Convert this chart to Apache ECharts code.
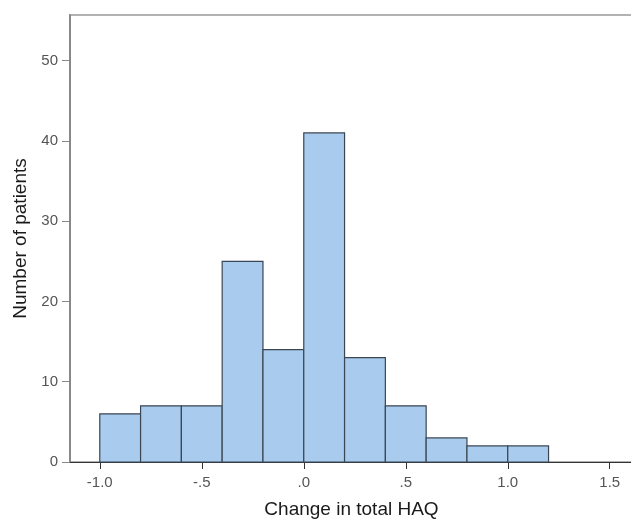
<!DOCTYPE html>
<html>
<head>
<meta charset="utf-8">
<script src="https://cdn.jsdelivr.net/npm/echarts@6/dist/echarts.min.js"></script>
<style>
html,body{margin:0;padding:0;background:#fff;}
#chart{width:631px;height:523px;}
</style>
</head>
<body>
<div id="chart"></div>
<script>
// Histogram data: bin edges (change in total HAQ) and counts per bin
const binEdges = [-1.0, -0.8, -0.6, -0.4, -0.2, 0.0, 0.2, 0.4, 0.6, 0.8, 1.0, 1.2];
const counts = [6, 7, 7, 25, 14, 41, 13, 7, 3, 2, 2];
const xTickValues = [-1.0, -0.5, 0.0, 0.5, 1.0, 1.5];
const xTickLabels = ['-1.0', '-.5', '.0', '.5', '1.0', '1.5'];
const yTickValues = [0, 10, 20, 30, 40, 50];

const barData = counts.map((c, i) => [binEdges[i], binEdges[i + 1], c]);

const chart = echarts.init(document.getElementById('chart'), null, {renderer: 'canvas'});
const font = '"Liberation Sans", Arial, sans-serif';

chart.setOption({
  animation: false,
  backgroundColor: '#fff',
  grid: {
    left: 70, top: 15, bottom: 61, right: -2,
    containLabel: false, outerBoundsMode: 'none',
    show: true, borderColor: '#999', borderWidth: 1.5, backgroundColor: 'transparent'
  },
  xAxis: {
    type: 'value',
    min: -1.146, max: 1.614,
    name: 'Change in total HAQ',
    nameLocation: 'middle',
    nameGap: 38,
    nameTextStyle: {fontFamily: font, fontSize: 19, color: '#1a1a1a'},
    axisLine: {show: true, onZero: false, lineStyle: {color: '#333', width: 1}},
    axisTick: {show: true, length: 7, customValues: xTickValues, lineStyle: {color: '#333'}},
    axisLabel: {
      customValues: xTickValues,
      formatter: v => { const i = xTickValues.findIndex(t => Math.abs(t - v) < 1e-9); return i >= 0 ? xTickLabels[i] : ''; },
      fontFamily: font, fontSize: 15, color: '#555', margin: 13
    },
    splitLine: {show: false}
  },
  yAxis: {
    type: 'value',
    min: 0, max: 55.7,
    name: 'Number of patients',
    nameLocation: 'middle',
    nameGap: 40,
    nameTextStyle: {fontFamily: font, fontSize: 19, color: '#1a1a1a'},
    axisLine: {show: true, onZero: false, lineStyle: {color: '#888', width: 2}},
    axisTick: {show: true, length: 8, customValues: yTickValues, lineStyle: {color: '#888'}},
    axisLabel: {customValues: yTickValues, fontFamily: font, fontSize: 15, color: '#555', margin: 12},
    splitLine: {show: false}
  },
  series: [{
    type: 'custom',
    data: barData,
    encode: {x: [0, 1], y: 2},
    renderItem: function (params, api) {
      const p0 = api.coord([api.value(0), api.value(2)]);
      const p1 = api.coord([api.value(1), 0]);
      return {
        type: 'rect',
        shape: {x: p0[0], y: p0[1], width: p1[0] - p0[0], height: p1[1] - p0[1]},
        style: {fill: '#a9cbee', stroke: '#3b4654', lineWidth: 1.2}
      };
    }
  }]
});
</script>
</body>
</html>
